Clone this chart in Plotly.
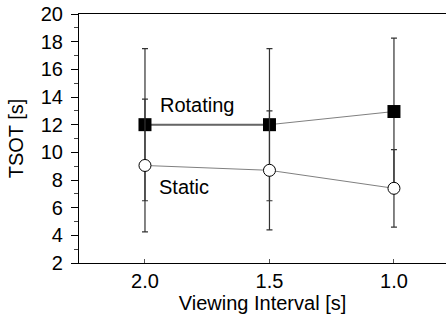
import plotly.graph_objects as go

intervals = ["2.0", "1.5", "1.0"]
rotating_mean = [12.0, 12.0, 12.95]
rotating_err = [5.5, 5.5, 5.3]
static_mean = [9.05, 8.7, 7.4]
static_err = [4.8, 4.3, 2.8]

xpos = list(range(len(intervals)))
FONT = "Liberation Sans, Arial, Helvetica, sans-serif"
ERRC = "#333333"
FS = 20

fig = go.Figure()
# Rotating
fig.add_trace(go.Scatter(
    x=xpos, y=rotating_mean, mode="lines",
    line=dict(color="#808080", width=1), showlegend=False, hoverinfo="skip"))
fig.add_trace(go.Scatter(
    x=xpos[:2], y=rotating_mean[:2], mode="lines",
    line=dict(color="#666666", width=2), showlegend=False, hoverinfo="skip"))
fig.add_trace(go.Scatter(
    x=xpos, y=rotating_mean, mode="markers",
    marker=dict(symbol="square", size=13, color="black", line=dict(color="black", width=0)),
    error_y=dict(type="data", array=rotating_err, visible=True, color=ERRC, thickness=1.2, width=3),
    showlegend=False))
# Static
fig.add_trace(go.Scatter(
    x=xpos, y=static_mean, mode="lines+markers",
    line=dict(color="#808080", width=1),
    marker=dict(symbol="circle", size=12, color="white", line=dict(color="black", width=1)),
    error_y=dict(type="data", array=static_err, visible=True, color=ERRC, thickness=1.2, width=3),
    showlegend=False))

fig.add_annotation(x=0.12, y=13.4, text="Rotating", showarrow=False, xanchor="left",
                   yanchor="middle", xshift=-2, font=dict(size=FS, color="black", family=FONT))
fig.add_annotation(x=0.11, y=7.5, text="Static", showarrow=False, xanchor="left",
                   yanchor="middle", xshift=-2, font=dict(size=FS, color="black", family=FONT))

fig.update_layout(
    width=446, height=316,
    margin=dict(l=79, r=0, t=14, b=53, autoexpand=False),
    paper_bgcolor="white", plot_bgcolor="white",
    font=dict(family=FONT, size=FS, color="black"),
    xaxis=dict(
        range=[-0.53, 2.418], tickvals=xpos, ticktext=intervals, automargin=False,
        showgrid=False, zeroline=False, showline=True, linecolor="black", linewidth=1.2,
        mirror=True, ticks="inside", ticklen=4, tickcolor="#555555",
        ticklabeloverflow="allow",
        title=dict(text="Viewing Interval [s]", standoff=0, font=dict(size=FS)),
        tickfont=dict(size=FS),
    ),
    yaxis=dict(
        range=[2, 20], tick0=0, dtick=2, automargin=False,
        showgrid=False, zeroline=False, showline=True, linecolor="black", linewidth=1.2,
        ticks="outside", ticklen=7, tickcolor="black",
        ticklabeloverflow="allow", ticklabelstandoff=4,
        minor=dict(dtick=1, tick0=1, ticks="outside", ticklen=4, tickcolor="#444444", showgrid=False),
        title=dict(text="TSOT [s]", standoff=11, font=dict(size=FS)),
        tickfont=dict(size=FS),
    ),
)

fig.write_html("out.html", config={"displayModeBar": False},
               post_script="document.body.style.margin='0px';")
